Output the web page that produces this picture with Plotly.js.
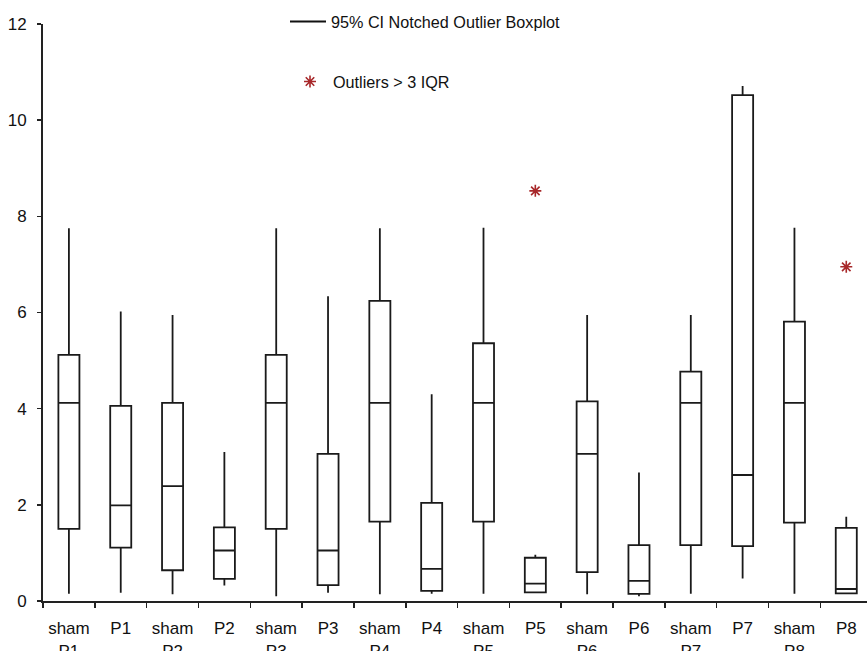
<!DOCTYPE html>
<html>
<head>
<meta charset="utf-8">
<script src="https://cdn.plot.ly/plotly-3.0.1.min.js"></script>
<style>html,body{margin:0;padding:0;background:#fff;}#chart{width:867px;height:651px;}</style>
</head>
<body>
<div id="chart"></div>
<script>
// Categories (tick labels)
var categories = ["sham<br>P1","P1","sham<br>P2","P2","sham<br>P3","P3","sham<br>P4","P4",
                  "sham<br>P5","P5","sham<br>P6","P6","sham<br>P7","P7","sham<br>P8","P8"];
// Box statistics
var lowerWhisker = [0.15,0.17,0.14,0.32,0.10,0.17,0.14,0.15,0.15,0.18,0.14,0.10,0.15,0.47,0.15,0.16];
var q1Values     = [1.50,1.11,0.64,0.46,1.50,0.33,1.65,0.21,1.65,0.18,0.60,0.15,1.16,1.14,1.63,0.16];
var medianValues = [4.12,1.99,2.39,1.05,4.12,1.05,4.12,0.67,4.12,0.36,3.06,0.42,4.12,2.62,4.12,0.25];
var q3Values     = [5.12,4.06,4.12,1.53,5.12,3.06,6.24,2.04,5.36,0.90,4.15,1.16,4.77,10.52,5.81,1.52];
var upperWhisker = [7.75,6.02,5.95,3.10,7.75,6.34,7.75,4.30,7.76,0.96,5.95,2.67,5.95,10.71,7.76,1.75];
// Outliers
var outlierCats   = ["P5","P8"];
var outlierValues = [8.53,6.95];

var fontFam = "Liberation Sans, Arial, sans-serif";

var boxTrace = {
  type: "box",
  x: categories,
  q1: q1Values,
  median: medianValues,
  q3: q3Values,
  lowerfence: lowerWhisker,
  upperfence: upperWhisker,
  boxpoints: false,
  whiskerwidth: 0,
  fillcolor: "rgba(255,255,255,0)",
  line: {color: "#1a1a1a", width: 1.8},
  showlegend: false,
  hoverinfo: "skip"
};

var legendLine = {
  type: "scatter",
  mode: "lines",
  x: [null], y: [null],
  name: "95% CI Notched Outlier Boxplot",
  line: {color: "#111", width: 2},
  legend: "legend",
  showlegend: true
};

var outlierTrace = {
  type: "scatter",
  mode: "markers",
  x: outlierCats,
  y: outlierValues,
  name: "Outliers > 3 IQR",
  marker: {symbol: "asterisk-open", size: 10, color: "#a8282a", line: {color: "#a8282a", width: 1.6}},
  legend: "legend2",
  showlegend: true
};

var layout = {
  width: 867, height: 651,
  margin: {l: 43, r: 0, t: 24, b: 50},
  paper_bgcolor: "#fff", plot_bgcolor: "#fff",
  font: {family: fontFam, color: "#111"},
  boxgap: 0.42,
  xaxis: {
    type: "category",
    categoryorder: "array",
    categoryarray: categories,
    range: [-0.5, 15.4],
    tickson: "boundaries",
    ticks: "outside", ticklen: 5, tickwidth: 1.5, tickcolor: "#222",
    showline: true, linecolor: "#222", linewidth: 2,
    showgrid: false, zeroline: false,
    tickfont: {family: fontFam, size: 17, color: "#111"},
    ticklabelstandoff: 11
  },
  yaxis: {
    range: [0, 12],
    tickvals: [0, 2, 4, 6, 8, 10, 12],
    ticktext: ["0", "2", "4", "6", "8", "10", "12"],
    ticks: "outside", ticklen: 4, tickwidth: 1.5, tickcolor: "#222",
    showline: true, linecolor: "#222", linewidth: 2,
    showgrid: false, zeroline: false,
    tickfont: {family: fontFam, size: 17, color: "#111"},
    ticklabelstandoff: 7
  },
  legend: {
    x: (285 - 43) / 824, xanchor: "left", xref: "paper",
    y: (601 - 22) / 577, yanchor: "middle", yref: "paper",
    bgcolor: "rgba(0,0,0,0)", borderwidth: 0,
    font: {family: fontFam, size: 16.2, color: "#111"},
    itemwidth: 36
  },
  legend2: {
    x: (287 - 43) / 824, xanchor: "left", xref: "paper",
    y: (601 - 82) / 577, yanchor: "middle", yref: "paper",
    bgcolor: "rgba(0,0,0,0)", borderwidth: 0,
    font: {family: fontFam, size: 16.2, color: "#111"},
    itemwidth: 36
  },
  showlegend: true
};

Plotly.newPlot("chart", [boxTrace, legendLine, outlierTrace], layout, {displayModeBar: false, staticPlot: true});
</script>
</body>
</html>
